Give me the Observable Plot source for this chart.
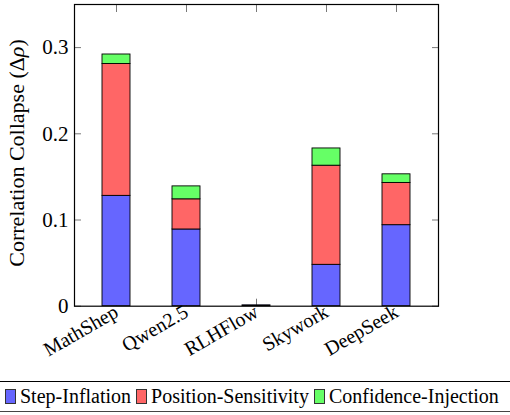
<!DOCTYPE html>
<html>
<head>
<meta charset="utf-8">
<script src="https://cdn.jsdelivr.net/npm/d3@7"></script>
<script src="https://cdn.jsdelivr.net/npm/@observablehq/plot@0.6"></script>
<style>
  body { margin: 0; background: #fff; font-family: 'Liberation Serif', 'Times New Roman', serif; }
  #wrap { position: relative; width: 510px; height: 415px; overflow: hidden; }
  #legend { position: absolute; top: 381px; left: -3px; width: 520px; height: 31px; border-top: 1.3px solid #000; border-bottom: 1.3px solid #444; display: flex; align-items: center; font-family: 'Liberation Serif', 'Times New Roman', serif; font-size: 20px; color: #000; box-sizing: border-box; padding-left: 8px; }
  .sw { width: 11px; height: 15px; border: 1px solid #333; box-sizing: border-box; margin-right: 4px; flex: none; }
  .it { display: flex; align-items: center; margin-right: 5px; white-space: nowrap; }
</style>
</head>
<body>
<div id="wrap"><div id="chart"></div><div id="legend"></div></div>
<script>
const categories = ["MathShep", "Qwen2.5", "RLHFlow", "Skywork", "DeepSeek"];
const series = ["Step-Inflation", "Position-Sensitivity", "Confidence-Injection"];
const stepInflation = [0.128, 0.089, 0.001, 0.048, 0.094];
const positionSensitivity = [0.153, 0.035, 0, 0.115, 0.049];
const confidenceInjection = [0.011, 0.015, 0, 0.020, 0.010];
const colors = ["#6666ff", "#ff6666", "#66ff66"];
const yTicks = [0, 0.1, 0.2, 0.3];

const seriesValues = [stepInflation, positionSensitivity, confidenceInjection];
const data = [];
series.forEach((s, i) => categories.forEach((c, j) => {
  if (seriesValues[i][j] > 0) data.push({model: c, series: s, value: seriesValues[i][j]});
}));

const font = "'Liberation Serif', 'Times New Roman', serif";
const chart = Plot.plot({
  width: 510,
  height: 380,
  marginLeft: 74,
  marginRight: 72,
  marginTop: 4,
  marginBottom: 74.3,
  style: {fontFamily: font, background: "white", color: "black"},
  x: {type: "band", domain: categories, paddingInner: 0.6, paddingOuter: 0.4},
  y: {domain: [0, 0.35]},
  color: {domain: series, range: colors},
  marks: [
    Plot.axisX({anchor: "bottom", tickSize: 7, dy: -7, fill: "none", stroke: "#555", strokeWidth: 0.8}),
    Plot.barY(data, {x: "model", y: "value", fill: "series", stroke: "black", strokeWidth: 0.9, order: series}),
    Plot.axisX({anchor: "top", tickSize: 7, dy: 7, fill: "none", stroke: "#555", strokeWidth: 0.8}),
    Plot.axisY({anchor: "left", ticks: yTicks, tickSize: 7, dx: 7, fill: "none", stroke: "#555", strokeWidth: 0.8}),
    Plot.axisY({anchor: "right", ticks: yTicks, tickSize: 7, dx: -7, fill: "none", stroke: "#555", strokeWidth: 0.8}),
    Plot.axisY({anchor: "left", ticks: yTicks, tickSize: 0, tickPadding: 6, fontSize: 21, label: null,
      tickFormat: d => d === 0 ? "0" : d.toFixed(1)}),
    Plot.axisX({anchor: "bottom", tickSize: 0, tickPadding: 4, tickRotate: -30, fontSize: 20, label: null}),
    Plot.frame({stroke: "black", strokeWidth: 1.2})
  ]
});
document.getElementById("chart").appendChild(chart);

const svg = d3.select(chart);
const lab = svg.append("text")
  .attr("transform", "translate(24,153) rotate(-90)")
  .attr("text-anchor", "middle")
  .attr("font-family", font)
  .attr("font-size", 22)
  .attr("fill", "black");
lab.append("tspan").text("Correlation Collapse (Δ");
lab.append("tspan").attr("font-style", "italic").text("ρ");
lab.append("tspan").text(")");

const legend = d3.select("#legend");
series.forEach((s, i) => {
  const it = legend.append("div").attr("class", "it");
  it.append("div").attr("class", "sw").style("background", colors[i]);
  it.append("span").text(s);
});
</script>
</body>
</html>
